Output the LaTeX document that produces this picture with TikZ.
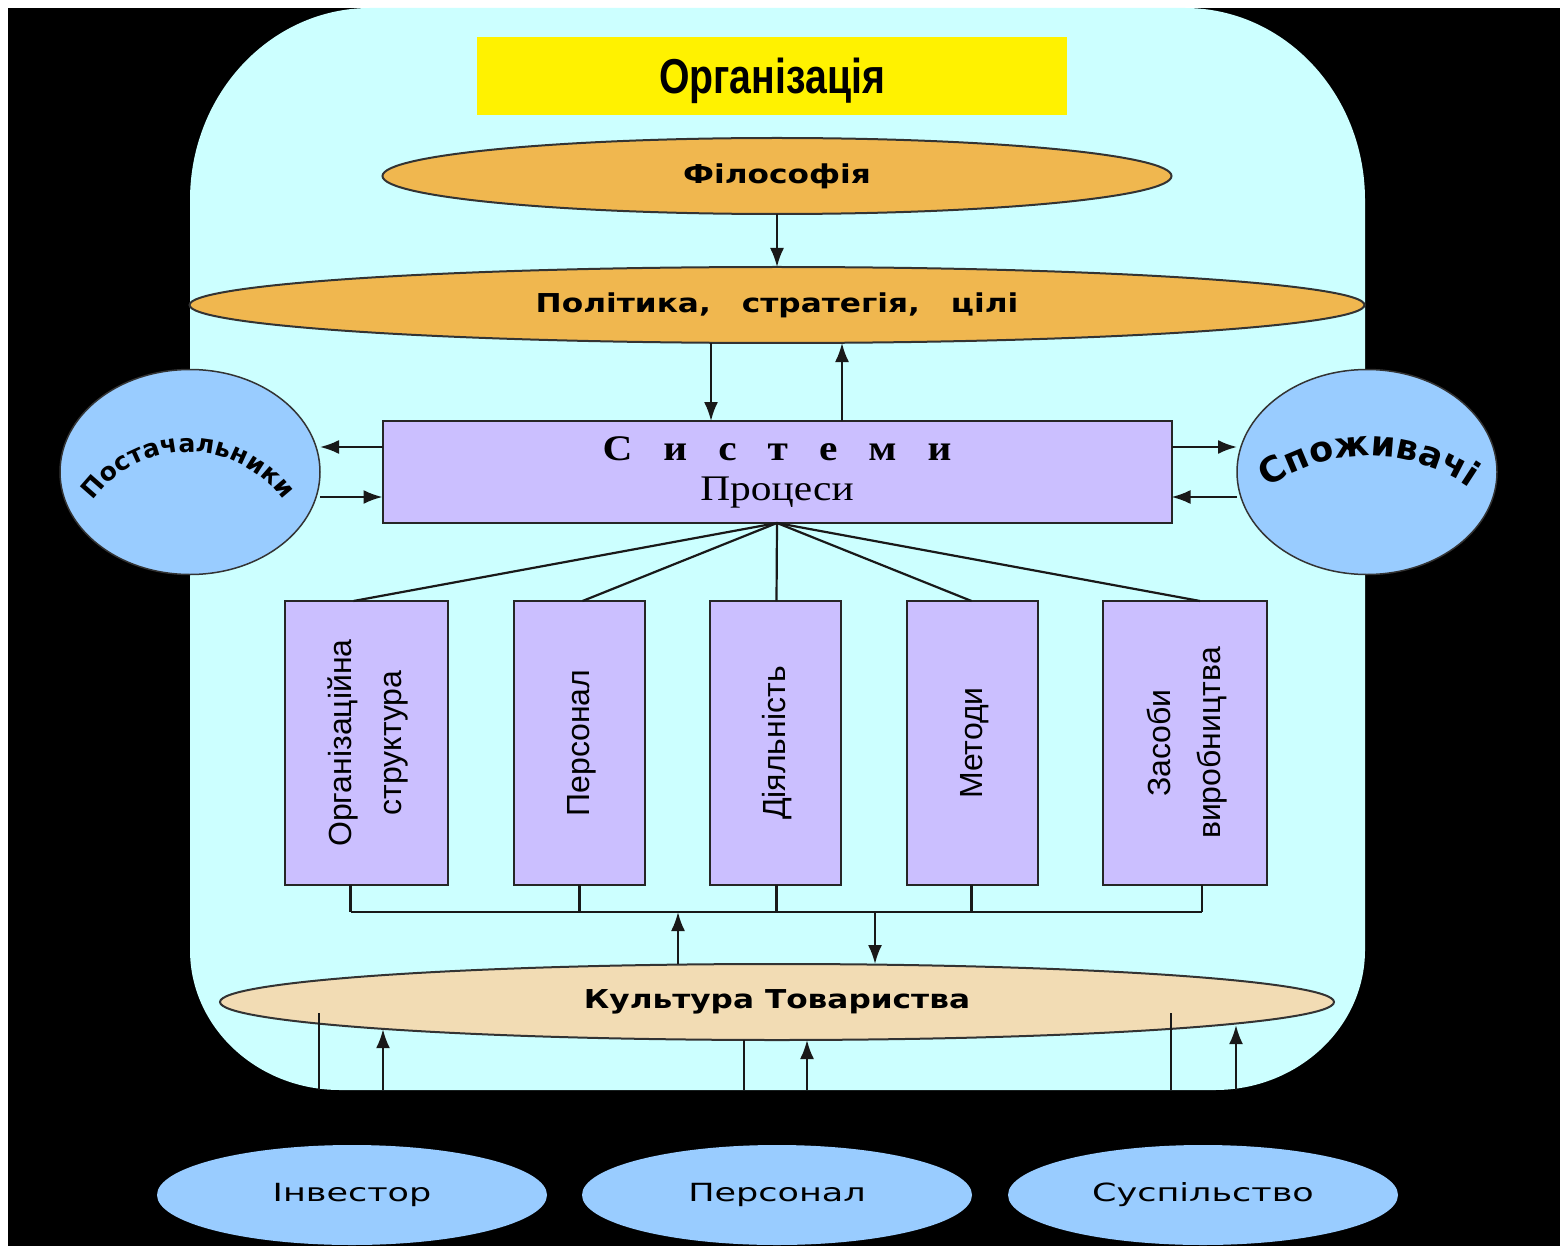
\documentclass[tikz,border=0pt]{standalone}
\usepackage{fontspec}
\usepackage{graphicx}
\usetikzlibrary{positioning,shapes.geometric,arrows.meta,decorations.text}

\newfontfamily\titlefont{Liberation Sans}[FakeStretch=0.8]
\newfontfamily\headfont{DejaVu Sans}[FakeStretch=1.2]
\newfontfamily\sysfont{Liberation Serif}[FakeStretch=1.15]
\newfontfamily\boxfont{Liberation Sans}
\newfontfamily\outfont{DejaVu Sans}[FakeStretch=1.4]
\newfontfamily\arcfont{DejaVu Sans}

\definecolor{bgcyan}{HTML}{CCFFFF}
\definecolor{orng}{HTML}{F0B74F}
\definecolor{lav}{HTML}{CBBFFF}
\definecolor{skyb}{HTML}{99CCFF}
\definecolor{culttan}{HTML}{F2DCB4}

\newcommand\sgap{\hspace{31pt}}
\newcommand\vlabel[1]{\rotatebox{90}{\begin{tabular}{@{}c@{}}#1\end{tabular}}}

\begin{document}
\begin{tikzpicture}[x = 1pt, y = -1pt,
    every node/.style = { inner sep = 0pt, outer sep = 0pt },
    oval/.style = { ellipse, draw = black!80, line width = 2pt, minimum height = 76pt,
      font = \headfont\bfseries\fontsize{26}{31}\selectfont },
    lavbox/.style = { rectangle, draw = black!85, line width = 2pt, fill = lav },
    vbox/.style = { lavbox, minimum height = 284pt, font = \boxfont\fontsize{32}{50}\selectfont },
    side/.style = { ellipse, draw = black!80, line width = 1.5pt, fill = skyb,
      minimum width = 260pt, minimum height = 205pt },
    party/.style = { ellipse, fill = skyb, minimum width = 390pt, minimum height = 100pt,
      font = \outfont\fontsize{25}{30}\selectfont },
    link/.style = { line width = 2.2pt, draw = black!90 },
    arr/.style = { link, -{Latex[length = 19pt, width = 14pt]} },
    curvetext/.style = { decorate, decoration = { text along path, text = {#1}, text align = center } }]
  \useasboundingbox (0,0) rectangle (1560,1246);
  \fill[white] (0,0) rectangle (1560,1246);
  \fill[black] (8,8) rectangle (1560,1246);
  \fill[bgcyan] (190,200) arc[start angle = 180, end angle = 270, x radius = 180, y radius = 192]
    -- (1185,8) arc[start angle = 270, end angle = 360, x radius = 180, y radius = 192]
    -- (1365,950) arc[start angle = 0, end angle = 90, x radius = 150, y radius = 140]
    -- (340,1090) arc[start angle = 90, end angle = 180, x radius = 150, y radius = 140] -- cycle;

  \node[fill = yellow, minimum width = 590pt, minimum height = 78pt, text depth = 0pt,
    font = \titlefont\bfseries\fontsize{49}{55}\selectfont] (title) at (772,76) {Організація};
  \node[oval, fill = orng, minimum width = 789pt] (phil) at (777,176) {Філософія};
  \node[oval, fill = orng, minimum width = 1175pt, below = 53pt of phil] (pol)
    {Політика,\hspace{31pt}стратегія,\hspace{31pt}цілі};
  \node[lavbox, minimum width = 789pt, minimum height = 102pt, below = 78pt of pol, align = center,
    font = \sysfont\fontsize{36}{40}\selectfont] (sys)
    {\textbf{С\sgap и\sgap с\sgap т\sgap е\sgap м\sgap и}\\Процеси};
  \node[side] (supp) at (190,472) {};
  \node[side] (cons) at (1367,472) {};

  \node[vbox, minimum width = 163pt] (b1) at (366.5,743) {\vlabel{Організаційна\\структура}};
  \node[vbox, minimum width = 131pt] (b2) at (579.5,743) {\vlabel{Персонал}};
  \node[vbox, minimum width = 131pt] (b3) at (775.5,743) {\vlabel{Діяльність}};
  \node[vbox, minimum width = 131pt] (b4) at (972.5,743) {\vlabel{Методи}};
  \node[vbox, minimum width = 164pt] (b5) at (1185,743) {\vlabel{Засоби\\виробництва}};

  \node[oval, fill = culttan, minimum width = 1114pt] (cult) at (777,1002) {Культура Товариства};

  \node[party] (inv) at (352,1195) {Інвестор};
  \node[party] (pers) at (777,1195) {Персонал};
  \node[party] (soc) at (1203,1195) {Суспільство};

  % curved labels
  \path[curvetext = {|\arcfont\bfseries\fontsize{25}{30}\selectfont|Постачальники}]
    (supp.center) ++(-2,98) ++(200:118) arc[start angle = 200, end angle = 340, radius = 118];
  \path[curvetext = {|\arcfont\bfseries\fontsize{35}{40}\selectfont|Споживачі}]
    (cons.center) ++(2,160) ++(220:176) arc[start angle = 220, end angle = 320, radius = 176];

  % connectors
  \draw[arr] (phil) -- (pol);
  \draw[arr] ([xshift = -66pt]pol.south) -- ([xshift = -66pt]sys.north);
  \draw[arr] ([xshift = 65pt]sys.north) -- ([xshift = 65pt]pol.south);
  \draw[arr] ([yshift = 25pt]sys.west) -- ([yshift = 25pt]supp.east);
  \draw[arr] ([yshift = -25pt]supp.east) -- ([yshift = -25pt]sys.west);
  \draw[arr] ([yshift = 25pt]sys.east) -- ([yshift = 25pt]cons.west);
  \draw[arr] ([yshift = -25pt]cons.west) -- ([yshift = -25pt]sys.east);
  \foreach \b/\s in {b1/-13,b2/3,b3/1,b4/-1,b5/15}
    \draw[link] (sys.south) -- ([xshift = \s pt]\b.north);

  \coordinate (busup) at (678,912);
  \coordinate (busdn) at (875,912);
  \foreach \b/\s in {b1/-16,b2/0,b3/1,b4/-1,b5/17}
    \draw[link] ([xshift = \s pt]\b.south) -- ([xshift = \s pt]\b.south |- busup);
  \draw[link] ([xshift = -16pt]b1.south |- busup) -- ([xshift = 17pt]b5.south |- busup);
  \draw[arr] (cult.north -| busup) -- (busup);
  \draw[arr] (busdn) -- (cult.north -| busdn);

  \coordinate (ln1) at (319,1013);
  \coordinate (in1) at (383,1090);
  \coordinate (ln2) at (744,1090);
  \coordinate (in2) at (807,1090);
  \coordinate (ln3) at (1171,1013);
  \coordinate (in3) at (1236,1090);
  \draw[link] (ln1) -- (ln1 |- in1);
  \draw[arr] (in1) -- (in1 |- cult.184);
  \draw[link] (ln2 |- cult.south) -- (ln2);
  \draw[arr] (in2) -- (in2 |- cult.south);
  \draw[link] (ln3) -- (ln3 |- in3);
  \draw[arr] (in3) -- (in3 |- cult.357.3);
\end{tikzpicture}
\end{document}
